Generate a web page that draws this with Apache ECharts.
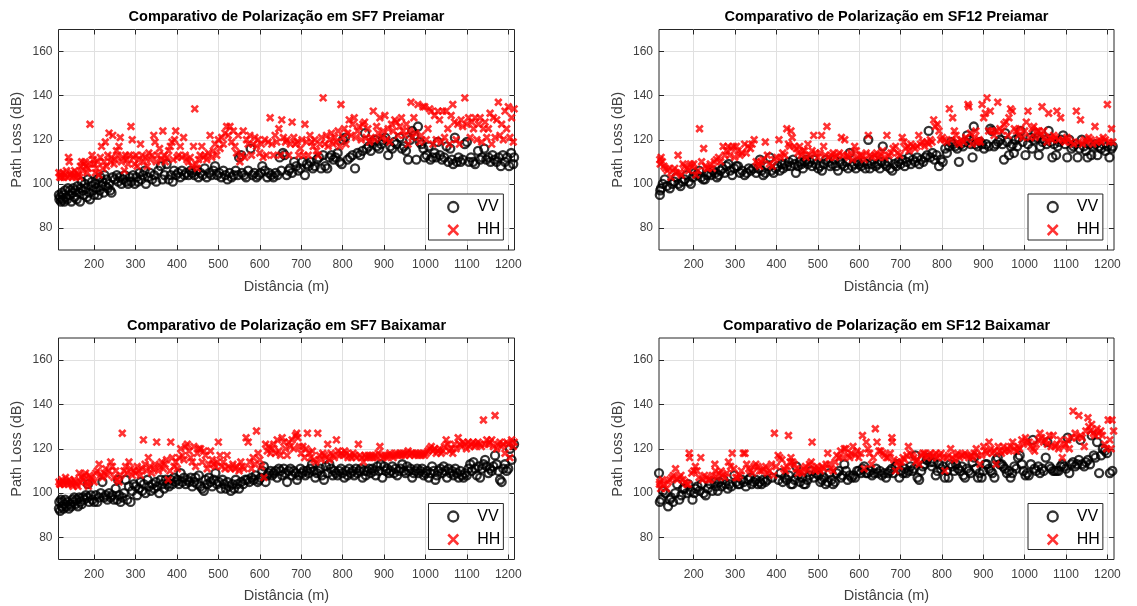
<!DOCTYPE html>
<html>
<head>
<meta charset="utf-8">
<script src="https://cdn.jsdelivr.net/npm/echarts@6/dist/echarts.min.js"></script>
<style>
html,body{margin:0;padding:0;background:#fff;}
#chart{width:1137px;height:606px;}
</style>
</head>
<body>
<div id="chart"></div>
<script>
// ---------- data ----------
const titles = [
  'Comparativo de Polarização em SF7 Preiamar',
  'Comparativo de Polarização em SF12 Preiamar',
  'Comparativo de Polarização em SF7 Baixamar',
  'Comparativo de Polarização em SF12 Baixamar'
];
const seriesNames = ['VV', 'HH'];
const xTicks = [200, 300, 400, 500, 600, 700, 800, 900, 1000, 1100, 1200];
const yTicks = [80, 100, 120, 140, 160];
const xName = 'Distância (m)';
const yName = 'Path Loss (dB)';

const sf7PreVV = [[115,95],[116,93],[118,94],[120,92],[122,96],[124,93],[126,95],[128,92],[130,97],[132,94],[135,93],[137,98],[140,95],[142,97],[145,92],[148,96],[150,98],[153,94],[155,97],[158,93],[160,99],[163,96],[166,92],[168,98],[170,101],[173,97],[175,95],[178,100],[180,98],[183,94],[185,102],[188,96],[190,93],[193,99],[195,101],[198,97],[200,95],[203,100],[205,98],[208,102],[210,95],[213,97],[215,103],[218,99],[220,101],[223,96],[225,104],[228,99],[230,102],[233,98],[236,100],[239,97],[242,96],[245,103],[250,102],[255,104],[258,101],[262,103],[266,100],[270,102],[274,104],[278,101],[282,100],[286,103],[290,101],[294,104],[298,100],[302,103],[306,101],[310,105],[314,102],[318,104],[322,106],[325,100],[330,103],[335,105],[340,102],[345,104],[350,101],[355,106],[361,108],[365,102],[370,104],[375,109],[380,102],[385,104],[390,101],[393,106],[398,104],[403,105],[408,103],[412,106],[418,104],[422,105],[428,104],[433,106],[437,105],[442,104],[447,106],[452,103],[457,105],[462,104],[467,107],[472,103],[478,105],[483,104],[488,106],[492,108],[497,104],[502,105],[507,103],[512,106],[517,104],[522,102],[527,105],[532,103],[537,104],[542,106],[547,104],[550,112],[555,113],[557,105],[562,104],[567,103],[572,106],[578,116],[582,104],[587,105],[592,103],[597,104],[602,105],[606,108],[612,106],[618,103],[622,105],[628,104],[633,103],[638,105],[643,104],[648,112],[652,106],[656,114],[660,113],[665,104],[670,106],[673,107],[678,105],[683,110],[688,108],[693,106],[698,107],[703,110],[709,104],[714,109],[718,108],[723,110],[728,107],[733,108],[738,111],[743,112],[748,107],[753,113],[758,108],[763,107],[768,112],[773,113],[778,111],[783,112],[788,114],[793,110],[798,109],[801,120],[806,121],[812,111],[818,112],[824,113],[830,107],[836,114],[842,113],[848,115],[854,123],[858,116],[863,117],[868,115],[872,119],[878,120],[883,117],[888,116],[893,118],[898,120],[903,121],[910,113],[915,117],[920,116],[925,119],[930,118],[938,121],[943,116],[948,117],[953,115],[958,111],[963,120],[968,124],[973,122],[978,111],[982,126],[986,119],[990,118],[995,116],[998,112],[1003,113],[1008,117],[1012,111],[1017,112],[1022,114],[1026,112],[1030,119],[1035,113],[1040,111],[1045,112],[1051,117],[1055,110],[1060,116],[1064,111],[1067,109],[1071,121],[1076,110],[1080,112],[1085,110],[1090,111],[1095,118],[1100,119],[1105,110],[1110,112],[1115,110],[1120,109],[1127,115],[1132,111],[1137,112],[1142,116],[1147,111],[1152,112],[1157,110],[1162,113],[1167,111],[1172,110],[1177,112],[1182,108],[1187,113],[1192,110],[1197,112],[1202,108],[1207,114],[1212,109],[1214,112]];

const sf7PreHH = [[115,105],[117,103],[119,104],[121,103],[124,105],[127,103],[130,104],[133,106],[136,103],[138,112],[140,110],[142,104],[145,105],[148,103],[150,104],[153,106],[156,103],[159,105],[162,104],[165,103],[167,108],[170,110],[172,106],[175,109],[178,110],[180,108],[183,105],[186,107],[190,127],[192,109],[195,113],[198,111],[200,109],[203,105],[206,107],[209,110],[212,104],[215,112],[218,117],[221,107],[224,110],[227,119],[230,108],[233,113],[236,123],[239,110],[242,112],[245,122],[248,109],[251,111],[254,115],[257,113],[260,117],[263,121],[266,110],[270,112],[273,106],[276,113],[279,111],[282,109],[285,113],[289,126],[292,120],[295,112],[298,109],[301,113],[304,108],[308,111],[312,118],[316,113],[320,110],[324,112],[328,108],[332,114],[336,111],[340,113],[344,122],[347,119],[350,110],[354,113],[358,116],[362,111],[366,124],[369,113],[372,110],[376,112],[380,115],[384,117],[388,119],[391,111],[394,120],[397,124],[400,112],[404,113],[408,117],[412,112],[416,121],[420,113],[424,111],[428,110],[432,112],[436,108],[440,117],[443,134],[446,109],[449,107],[452,111],[456,113],[460,117],[464,112],[468,113],[472,111],[476,114],[480,122],[484,112],[488,115],[492,118],[496,113],[500,120],[504,116],[508,121],[512,118],[516,123],[520,126],[524,122],[528,126],[532,119],[536,124],[540,117],[544,114],[548,122],[552,110],[556,113],[560,124],[564,112],[568,120],[572,118],[576,122],[580,113],[584,118],[588,121],[592,117],[596,120],[600,114],[604,118],[608,112],[612,120],[616,113],[620,119],[625,130],[629,118],[633,113],[637,122],[641,119],[646,125],[650,113],[653,129],[657,121],[662,119],[666,120],[670,113],[674,118],[678,128],[682,121],[686,118],[690,119],[694,113],[698,116],[702,120],[706,113],[709,127],[713,119],[717,113],[721,122],[725,119],[729,117],[733,120],[737,115],[741,113],[745,118],[749,121],[753,139],[757,118],[761,122],[765,117],[769,120],[773,123],[777,118],[781,121],[785,119],[789,124],[793,117],[796,136],[800,121],[804,125],[808,118],[812,123],[816,129],[820,122],[824,127],[828,130],[832,121],[836,124],[840,126],[845,120],[849,127],[853,128],[857,121],[861,125],[865,119],[869,121],[874,133],[878,120],[882,126],[886,123],[890,130],[894,121],[898,124],[902,131],[906,120],[910,125],[914,119],[918,127],[922,124],[926,129],[930,128],[934,122],[938,126],[942,130],[946,124],[950,122],[954,127],[958,118],[962,124],[965,137],[968,121],[972,130],[976,123],[982,136],[986,119],[990,122],[994,135],[998,135],[1002,120],[1006,125],[1010,134],[1014,133],[1018,118],[1022,131],[1026,120],[1030,133],[1034,129],[1038,119],[1042,133],[1046,121],[1050,133],[1054,125],[1058,118],[1062,131],[1066,136],[1070,128],[1074,120],[1078,127],[1082,118],[1086,129],[1090,126],[1095,139],[1100,127],[1104,130],[1108,121],[1112,128],[1116,125],[1120,130],[1124,120],[1128,127],[1132,130],[1136,119],[1140,125],[1144,128],[1148,121],[1152,125],[1156,132],[1160,118],[1164,130],[1168,121],[1172,129],[1176,137],[1180,122],[1184,127],[1188,120],[1192,133],[1196,125],[1200,135],[1204,121],[1208,130],[1212,119],[1214,134]];

const sf12PreVV = [[118,95],[119,97],[121,98],[125,100],[130,102],[135,99],[142,98],[148,100],[153,101],[158,103],[163,100],[168,99],[173,101],[178,102],[183,104],[188,101],[193,100],[198,103],[203,105],[208,104],[213,106],[218,103],[223,102],[227,102],[232,104],[237,105],[242,104],[247,106],[252,105],[256,103],[260,104],[265,106],[270,107],[275,105],[279,108],[284,109],[288,106],[293,104],[298,107],[303,108],[307,108],[312,105],[317,106],[323,104],[328,105],[333,107],[338,106],[344,107],[351,105],[356,107],[360,111],[364,106],[368,104],[373,105],[378,108],[384,112],[388,106],[393,105],[398,107],[403,108],[408,106],[413,109],[416,107],[420,109],[425,108],[430,110],[435,108],[440,111],[444,109],[447,105],[452,108],[456,110],[460,109],[464,107],[468,110],[472,111],[476,109],[481,110],[486,108],[490,111],[495,109],[501,107],[505,108],[510,106],[515,109],[520,111],[525,110],[530,108],[535,109],[540,111],[544,108],[549,106],[554,110],[559,109],[564,108],[569,110],[573,107],[577,114],[583,108],[588,109],[592,107],[596,110],[600,109],[605,108],[610,110],[615,107],[619,109],[622,120],[626,107],[630,109],[635,111],[640,108],[645,109],[650,107],[654,110],[657,117],[662,109],[666,108],[670,110],[675,107],[680,106],[685,109],[690,108],[695,110],[700,109],[705,111],[710,108],[715,110],[720,112],[725,109],[730,111],[735,110],[740,112],[745,109],[750,111],[755,110],[760,112],[764,113],[768,124],[772,112],[777,114],[782,111],[787,113],[793,108],[797,111],[802,110],[808,116],[812,114],[817,117],[822,119],[827,118],[832,117],[837,116],[841,110],[846,118],[851,117],[856,119],[861,122],[866,120],[870,118],[874,112],[877,126],[882,118],[887,117],[892,119],[897,118],[902,116],[907,118],[913,117],[917,125],[921,124],[926,117],[931,118],[936,119],[941,120],[946,118],[950,111],[953,123],[958,119],[962,113],[967,117],[971,118],[974,114],[978,120],[982,117],[986,121],[990,124],[995,119],[1002,113],[1008,118],[1014,121],[1018,116],[1022,120],[1026,123],[1030,121],[1034,113],[1038,117],[1043,119],[1048,120],[1053,118],[1058,124],[1062,119],[1067,112],[1071,118],[1076,113],[1080,117],[1083,119],[1088,120],[1093,122],[1098,118],[1103,112],[1108,120],[1113,116],[1118,117],[1123,118],[1128,112],[1133,116],[1138,120],[1143,117],[1148,115],[1152,112],[1157,118],[1161,113],[1166,117],[1171,118],[1176,113],[1180,117],[1185,116],[1190,118],[1195,115],[1200,117],[1205,112],[1210,116],[1213,117]];

const sf12PreHH = [[118,111],[119,109],[121,112],[124,110],[128,108],[132,107],[136,106],[140,107],[145,103],[150,106],[154,107],[158,105],[162,113],[166,105],[170,104],[174,109],[178,108],[183,107],[188,106],[192,109],[196,108],[200,109],[205,104],[210,106],[214,125],[219,110],[224,116],[228,108],[232,107],[235,107],[240,109],[245,107],[250,110],[255,111],[260,112],[265,110],[271,117],[275,113],[279,115],[283,117],[287,113],[291,116],[296,117],[299,112],[303,117],[307,115],[312,113],[317,114],[323,118],[327,114],[331,117],[337,116],[341,118],[346,120],[351,110],[355,109],[359,108],[363,110],[368,111],[373,119],[378,113],[383,109],[390,108],[395,111],[401,112],[406,120],[410,112],[415,114],[420,113],[425,125],[429,118],[432,117],[435,124],[438,121],[443,117],[448,116],[452,114],[456,117],[460,113],[464,115],[468,115],[472,112],[476,118],[481,113],[486,115],[490,122],[495,114],[500,112],[505,114],[509,122],[514,117],[518,113],[522,126],[527,112],[532,113],[537,114],[542,112],[547,113],[552,114],[557,121],[561,113],[565,120],[570,113],[575,112],[580,114],[584,111],[589,117],[593,115],[597,112],[602,113],[607,113],[612,111],[617,114],[622,122],[627,113],[632,112],[637,113],[642,114],[647,112],[652,113],[657,115],[662,112],[667,122],[672,113],[677,114],[682,116],[688,117],[693,114],[698,113],[704,121],[708,119],[712,116],[717,117],[721,115],[725,118],[730,117],[735,116],[740,117],[744,122],[748,118],[753,119],[758,117],[763,119],[768,118],[772,120],[776,119],[780,129],[784,126],[789,127],[793,124],[797,120],[801,121],[806,120],[812,119],[818,134],[823,120],[826,130],[830,124],[834,122],[838,119],[842,118],[847,120],[853,119],[858,121],[863,136],[865,135],[869,123],[873,118],[878,121],[882,124],[886,119],[890,120],[893,119],[897,136],[901,130],[905,132],[909,139],[913,124],[917,133],[921,124],[926,122],[930,124],[935,137],[940,125],[945,124],[950,127],[955,128],[960,122],[962,130],[966,134],[970,133],[975,125],[980,124],[985,122],[990,125],[995,121],[1000,124],[1004,128],[1008,133],[1013,121],[1018,125],[1022,126],[1025,121],[1030,124],[1034,124],[1038,122],[1042,135],[1046,124],[1050,121],[1054,119],[1058,132],[1062,121],[1066,120],[1070,122],[1074,121],[1078,133],[1082,120],[1087,130],[1092,120],[1097,119],[1102,121],[1106,120],[1112,119],[1118,118],[1125,133],[1130,119],[1135,129],[1140,118],[1145,120],[1150,119],[1155,121],[1160,120],[1165,118],[1170,126],[1175,119],[1180,120],[1185,119],[1190,121],[1195,120],[1200,136],[1205,119],[1210,125],[1213,119]];

const sf7BaiVV = [[115,93],[116,96],[118,92],[120,97],[122,94],[124,96],[126,93],[128,95],[130,97],[133,94],[136,96],[139,93],[142,95],[145,94],[148,97],[150,96],[152,98],[155,95],[158,97],[161,94],[164,98],[167,96],[170,95],[173,98],[176,97],[180,99],[184,98],[185,104],[188,96],[192,99],[196,97],[200,96],[204,99],[208,96],[212,98],[216,100],[220,105],[224,98],[228,99],[232,97],[236,100],[240,98],[244,99],[248,97],[252,102],[256,97],[258,106],[260,99],[264,96],[268,98],[272,100],[276,106],[280,97],[284,103],[288,96],[292,101],[296,104],[300,103],[304,99],[308,102],[312,105],[316,101],[320,104],[324,100],[329,106],[333,103],[337,101],[341,104],[345,102],[349,105],[353,103],[357,100],[361,106],[365,104],[369,102],[373,106],[377,104],[381,103],[385,106],[389,104],[393,107],[397,105],[401,106],[405,104],[409,109],[413,105],[417,107],[421,104],[425,106],[429,105],[433,107],[437,103],[441,105],[445,107],[449,104],[453,108],[457,103],[461,102],[465,101],[469,106],[473,104],[477,107],[481,105],[485,103],[489,106],[493,109],[497,104],[501,105],[506,102],[510,106],[514,104],[518,102],[522,105],[526,103],[530,101],[534,104],[538,102],[542,106],[546,104],[550,102],[555,105],[560,104],[565,106],[570,106],[575,105],[580,107],[585,106],[590,108],[595,105],[598,106],[602,107],[606,110],[610,112],[614,105],[618,108],[622,109],[626,110],[630,108],[634,109],[638,110],[642,107],[646,111],[650,110],[654,108],[658,111],[662,109],[666,105],[670,110],[674,111],[678,108],[682,110],[686,109],[690,106],[694,108],[698,111],[702,109],[706,110],[710,108],[714,110],[718,109],[722,111],[726,113],[730,110],[734,107],[738,109],[742,110],[746,111],[750,108],[755,106],[760,112],[764,109],[768,113],[772,111],[776,108],[780,110],[784,109],[788,108],[792,110],[796,111],[800,109],[804,107],[808,110],[812,108],[816,111],[820,109],[824,110],[828,108],[832,111],[836,109],[840,110],[844,111],[848,107],[852,110],[856,108],[860,110],[864,111],[868,109],[872,111],[876,110],[880,108],[884,112],[888,110],[892,113],[896,107],[900,112],[904,110],[908,111],[912,109],[916,110],[920,112],[924,109],[928,111],[932,108],[936,110],[940,111],[944,113],[948,110],[952,109],[956,112],[960,110],[964,111],[968,107],[972,109],[976,110],[980,111],[984,109],[988,110],[992,111],[996,108],[1000,109],[1004,110],[1008,107],[1012,109],[1016,112],[1020,110],[1024,106],[1028,108],[1032,110],[1036,111],[1040,109],[1044,112],[1048,110],[1052,107],[1056,111],[1060,109],[1064,110],[1068,108],[1072,111],[1076,109],[1080,107],[1084,110],[1088,108],[1092,107],[1096,109],[1100,108],[1104,111],[1108,113],[1112,110],[1116,114],[1120,111],[1124,108],[1128,112],[1132,107],[1136,111],[1140,113],[1144,115],[1148,112],[1152,109],[1156,111],[1160,110],[1164,112],[1168,117],[1172,113],[1176,110],[1180,106],[1184,105],[1188,111],[1192,113],[1196,110],[1200,111],[1204,120],[1208,115],[1214,122]];

const sf7BaiHH = [[115,105],[117,104],[119,104],[122,106],[125,105],[128,104],[131,107],[134,105],[137,104],[140,106],[143,105],[146,104],[149,103],[152,106],[155,105],[158,104],[161,103],[164,109],[167,105],[170,107],[173,106],[176,108],[179,109],[182,105],[184,104],[186,103],[189,108],[192,107],[196,106],[200,105],[204,109],[208,110],[212,113],[216,108],[220,107],[224,109],[228,111],[232,108],[236,110],[240,114],[244,112],[248,107],[252,110],[256,106],[260,105],[264,108],[268,127],[272,110],[276,112],[280,109],[284,114],[288,111],[292,108],[296,110],[300,109],[304,112],[308,110],[312,108],[316,111],[319,124],[323,113],[327,110],[331,116],[335,112],[339,109],[343,111],[347,113],[351,123],[355,110],[359,112],[363,114],[367,111],[371,113],[375,115],[379,106],[383,110],[385,123],[389,116],[393,112],[397,114],[401,111],[405,116],[409,120],[413,117],[417,115],[421,121],[425,122],[429,119],[433,116],[437,114],[441,121],[445,112],[449,118],[453,120],[457,120],[461,114],[465,119],[469,117],[473,111],[477,113],[481,119],[485,115],[489,113],[493,112],[497,114],[500,123],[504,117],[508,112],[512,114],[516,111],[521,117],[525,112],[530,111],[535,113],[540,111],[545,112],[550,110],[554,114],[558,112],[562,111],[567,125],[572,123],[576,114],[580,111],[584,116],[588,113],[592,128],[596,118],[600,115],[604,112],[610,107],[614,122],[618,119],[622,121],[626,118],[630,120],[634,122],[638,118],[642,124],[646,119],[650,117],[654,125],[658,123],[662,120],[666,117],[670,123],[674,121],[678,124],[682,120],[686,126],[689,127],[692,125],[696,121],[700,118],[704,121],[708,116],[712,120],[715,127],[719,118],[723,116],[727,119],[731,115],[735,114],[740,127],[744,117],[748,115],[752,118],[756,117],[760,116],[764,122],[768,115],[772,118],[776,117],[780,116],[785,124],[789,119],[793,117],[797,118],[801,117],[805,119],[809,118],[813,116],[817,117],[821,116],[825,118],[829,117],[833,116],[838,122],[842,117],[846,116],[850,114],[854,117],[858,116],[862,117],[866,116],[870,117],[874,116],[878,117],[882,116],[886,118],[890,121],[894,117],[898,116],[902,117],[906,116],[910,117],[914,118],[918,117],[922,116],[926,117],[930,118],[934,117],[938,118],[942,117],[946,118],[950,117],[954,118],[958,119],[962,117],[966,118],[970,118],[974,117],[978,118],[982,117],[986,118],[990,117],[994,118],[998,117],[1002,118],[1006,119],[1010,120],[1014,121],[1018,119],[1022,120],[1026,118],[1030,119],[1034,120],[1038,118],[1042,119],[1046,121],[1050,124],[1054,122],[1058,119],[1062,120],[1066,118],[1070,122],[1074,120],[1079,125],[1083,122],[1087,121],[1091,123],[1095,122],[1099,120],[1103,123],[1107,121],[1111,122],[1115,123],[1119,121],[1123,122],[1127,123],[1131,122],[1135,121],[1140,133],[1144,122],[1148,124],[1152,122],[1156,123],[1160,124],[1164,121],[1168,135],[1172,120],[1176,122],[1180,123],[1184,121],[1188,122],[1192,118],[1196,123],[1200,122],[1204,116],[1208,124],[1212,121],[1214,123]];

const sf12BaiVV = [[116,109],[118,96],[121,97],[126,101],[132,100],[138,94],[142,97],[145,98],[150,96],[155,100],[160,104],[165,97],[170,99],[174,102],[178,102],[183,100],[187,104],[192,101],[197,97],[201,100],[204,102],[209,103],[214,101],[219,104],[224,100],[229,99],[234,102],[240,104],[245,101],[250,105],[254,103],[258,101],[262,105],[267,103],[272,106],[277,104],[282,102],[286,104],[291,103],[298,108],[303,105],[307,104],[311,104],[316,106],[321,105],[326,103],[332,106],[337,107],[340,104],[345,105],[350,106],[355,104],[360,105],[364,104],[368,106],[373,105],[378,106],[390,107],[405,106],[410,109],[415,105],[420,107],[425,106],[430,108],[435,104],[439,104],[444,106],[448,112],[452,108],[457,105],[462,107],[466,104],[470,104],[475,106],[480,108],[484,110],[490,107],[496,109],[502,108],[506,105],[510,106],[515,107],[519,104],[524,105],[528,109],[533,106],[537,104],[541,105],[546,109],[551,110],[556,107],[560,108],[564,113],[568,110],[572,106],[577,108],[582,107],[586,108],[590,107],[595,110],[599,110],[604,109],[608,111],[612,112],[617,109],[621,109],[626,110],[631,108],[636,109],[641,111],[645,109],[650,110],[655,108],[660,109],[665,107],[670,109],[674,110],[679,111],[683,109],[688,112],[692,113],[697,107],[701,110],[706,109],[710,111],[714,109],[719,110],[724,112],[728,110],[732,111],[736,117],[741,107],[745,106],[750,110],[754,112],[758,113],[763,115],[767,116],[772,114],[776,112],[780,114],[785,108],[789,110],[793,113],[798,111],[803,112],[807,107],[812,110],[816,107],[820,113],[825,112],[830,110],[834,113],[839,111],[844,110],[848,112],[852,108],[856,107],[860,111],[865,110],[869,109],[874,114],[878,116],[882,111],[887,107],[891,109],[896,107],[900,110],[905,113],[909,113],[914,111],[918,110],[922,109],[927,107],[931,115],[935,116],[940,113],[944,113],[948,112],[952,111],[957,109],[962,110],[966,107],[970,109],[975,112],[980,111],[984,116],[988,117],[993,113],[997,110],[1002,108],[1006,109],[1010,108],[1015,113],[1020,124],[1024,111],[1028,110],[1033,112],[1037,109],[1042,111],[1046,110],[1051,116],[1055,123],[1060,112],[1064,111],[1069,110],[1073,110],[1078,110],[1082,110],[1087,112],[1091,113],[1095,112],[1100,111],[1104,125],[1108,109],[1113,113],[1117,114],[1122,112],[1127,113],[1131,115],[1135,124],[1139,113],[1144,112],[1148,114],[1153,115],[1158,113],[1162,126],[1167,117],[1171,116],[1175,123],[1180,109],[1185,117],[1189,120],[1194,119],[1199,118],[1206,109],[1212,110]];

const sf12BaiHH = [[117,104],[118,105],[120,102],[124,106],[128,104],[134,102],[138,105],[142,106],[147,107],[151,108],[156,111],[160,106],[165,107],[169,108],[174,106],[179,105],[183,104],[187,104],[189,118],[190,116],[195,109],[200,110],[204,112],[208,110],[213,107],[217,116],[221,106],[226,108],[231,107],[236,106],[240,106],[245,108],[251,113],[252,110],[256,107],[261,109],[266,110],[270,108],[275,107],[280,109],[284,114],[289,112],[293,118],[297,111],[302,107],[306,107],[311,108],[315,110],[320,118],[324,118],[328,113],[333,111],[337,110],[342,109],[346,112],[350,113],[355,112],[359,110],[364,110],[369,111],[374,112],[378,109],[383,110],[388,113],[393,108],[395,127],[399,112],[404,117],[408,116],[413,115],[418,111],[422,110],[426,112],[429,126],[433,114],[435,116],[439,114],[443,113],[448,111],[452,109],[457,110],[461,109],[466,111],[470,112],[475,110],[480,113],[484,114],[486,123],[490,111],[494,110],[498,112],[502,111],[506,110],[511,112],[515,111],[520,113],[524,118],[528,113],[533,111],[537,110],[542,114],[546,117],[551,116],[555,119],[560,116],[564,120],[568,120],[573,117],[577,116],[581,118],[585,121],[590,117],[595,119],[599,116],[604,118],[608,126],[612,111],[617,123],[621,120],[625,118],[630,113],[634,116],[639,129],[643,123],[648,119],[652,119],[657,118],[661,117],[666,116],[670,116],[675,118],[679,125],[680,123],[684,115],[688,110],[692,114],[697,112],[701,114],[706,116],[710,115],[715,117],[719,121],[723,118],[728,117],[732,116],[737,114],[741,115],[745,113],[750,117],[754,118],[758,118],[763,116],[767,117],[772,118],[776,116],[780,117],[785,118],[789,116],[794,117],[798,118],[803,116],[807,110],[812,116],[816,117],[821,120],[825,116],[830,115],[834,117],[838,118],[843,116],[847,117],[852,117],[856,118],[861,117],[865,116],[870,117],[874,116],[878,118],[883,120],[887,117],[892,113],[896,117],[901,121],[905,119],[909,118],[914,123],[918,120],[922,118],[927,119],[931,113],[936,121],[940,119],[944,118],[949,121],[953,119],[958,120],[962,119],[966,121],[971,123],[975,120],[980,119],[984,121],[988,120],[993,124],[997,122],[1002,125],[1006,123],[1011,123],[1015,121],[1020,120],[1024,119],[1028,122],[1033,124],[1037,127],[1041,125],[1046,123],[1051,124],[1055,122],[1060,126],[1064,121],[1069,126],[1073,121],[1078,122],[1082,120],[1086,124],[1091,116],[1095,121],[1099,122],[1104,124],[1108,120],[1113,125],[1117,137],[1122,127],[1126,125],[1131,135],[1135,126],[1139,125],[1144,121],[1148,128],[1153,134],[1155,130],[1159,128],[1162,131],[1166,127],[1170,126],[1175,129],[1179,127],[1184,128],[1188,126],[1193,122],[1198,120],[1202,133],[1206,124],[1209,120],[1211,133],[1215,128]];

const panelVV = [sf7PreVV, sf12PreVV, sf7BaiVV, sf12BaiVV];
const panelHH = [sf7PreHH, sf12PreHH, sf7BaiHH, sf12BaiHH];

// ---------- layout / style ----------
const FONT = '"Liberation Sans", Arial, Helvetica, sans-serif';
const TXT = '#404040';
const AX = '#262626';
const GRIDC = '#e0e0e0';
const panels = [
  { left: 58.5, top: 29.5, width: 456, height: 220.5, xMin: 114, xMax: 1215 },
  { left: 659, top: 29.5, width: 455, height: 220.5, xMin: 116, xMax: 1216 },
  { left: 58.5, top: 338, width: 456, height: 221.5, xMin: 114, xMax: 1215 },
  { left: 659, top: 338, width: 455, height: 221.5, xMin: 116, xMax: 1216 }
];
const Y_MIN = 70, Y_MAX = 170;
const X_ICON = 'path://M0,0L10,10M10,0L0,10';
const plain = v => String(v);

const grid = [], xAxis = [], yAxis = [], series = [], title = [], legend = [];
panels.forEach((p, i) => {
  grid.push({ left: p.left, top: p.top, width: p.width, height: p.height,
    show: true, borderColor: AX, borderWidth: 1, containLabel: false });
  title.push({ text: titles[i], left: p.left + p.width / 2, top: p.top - 20, textAlign: 'center', padding: 0,
    textStyle: { fontFamily: FONT, fontSize: 14.5, fontWeight: 'bold', color: '#000' } });
  // bottom x axis
  xAxis.push({ gridIndex: i, type: 'value', min: p.xMin, max: p.xMax, position: 'bottom',
    name: xName, nameLocation: 'middle', nameGap: 29,
    nameTextStyle: { fontFamily: FONT, fontSize: 14.5, color: TXT },
    axisLine: { show: false },
    axisTick: { show: true, inside: true, length: 5, customValues: xTicks, lineStyle: { color: AX } },
    axisLabel: { show: true, customValues: xTicks, formatter: plain, fontFamily: FONT, fontSize: 12, color: TXT, margin: 9 },
    splitLine: { show: true, lineStyle: { color: GRIDC, width: 1 } } });
  // top x axis (ticks only)
  xAxis.push({ gridIndex: i, type: 'value', min: p.xMin, max: p.xMax, position: 'top',
    axisLine: { show: false },
    axisTick: { show: true, inside: true, length: 5, customValues: xTicks, lineStyle: { color: AX } },
    axisLabel: { show: false }, splitLine: { show: false } });
  // left y axis
  yAxis.push({ gridIndex: i, type: 'value', min: Y_MIN, max: Y_MAX, position: 'left',
    name: yName, nameLocation: 'middle', nameGap: 34,
    nameTextStyle: { fontFamily: FONT, fontSize: 14.5, color: TXT },
    axisLine: { show: false },
    axisTick: { show: true, inside: true, length: 5, customValues: yTicks, lineStyle: { color: AX } },
    axisLabel: { show: true, customValues: yTicks, formatter: plain, fontFamily: FONT, fontSize: 12, color: TXT, margin: 6 },
    splitLine: { show: true, lineStyle: { color: GRIDC, width: 1 } } });
  // right y axis (ticks only)
  yAxis.push({ gridIndex: i, type: 'value', min: Y_MIN, max: Y_MAX, position: 'right',
    axisLine: { show: false },
    axisTick: { show: true, inside: true, length: 5, customValues: yTicks, lineStyle: { color: AX } },
    axisLabel: { show: false }, splitLine: { show: false } });

  series.push({ name: seriesNames[0], type: 'scatter', xAxisIndex: 2 * i, yAxisIndex: 2 * i,
    symbol: 'circle', symbolSize: 8, clip: false, silent: true,
    itemStyle: { color: 'rgba(0,0,0,0)', borderColor: '#000', borderWidth: 2.3 },
    data: panelVV[i] });
  series.push({ name: seriesNames[1], type: 'scatter', xAxisIndex: 2 * i, yAxisIndex: 2 * i,
    symbol: X_ICON, symbolSize: 6.5, clip: false, silent: true,
    itemStyle: { color: '#ff0000', borderColor: '#ff0000', borderWidth: 2.7 },
    data: panelHH[i] });

  legend.push({ orient: 'vertical', left: p.left + p.width - 12 - 74, top: p.top + p.height - 10 - 46,
    itemWidth: 10, itemHeight: 10, itemGap: 7, padding: [5, 3, 2, 18.5],
    borderColor: AX, borderWidth: 1, backgroundColor: '#fff', borderRadius: 0,
    selectedMode: false,
    textStyle: { fontFamily: FONT, fontSize: 16, color: '#000', lineHeight: 16, padding: [0, 0, 0, 14] },
    data: [
      { name: seriesNames[0], icon: 'circle', itemStyle: { color: 'rgba(0,0,0,0)', borderColor: '#000', borderWidth: 2.3 } },
      { name: seriesNames[1], icon: X_ICON, itemStyle: { color: '#ff0000', borderColor: '#ff0000', borderWidth: 2.5 } }
    ] });
});

const chart = echarts.init(document.getElementById('chart'), null, { renderer: 'canvas' });
chart.setOption({ animation: false, backgroundColor: '#fff', title, legend, grid, xAxis, yAxis, series });
</script>
</body>
</html>
